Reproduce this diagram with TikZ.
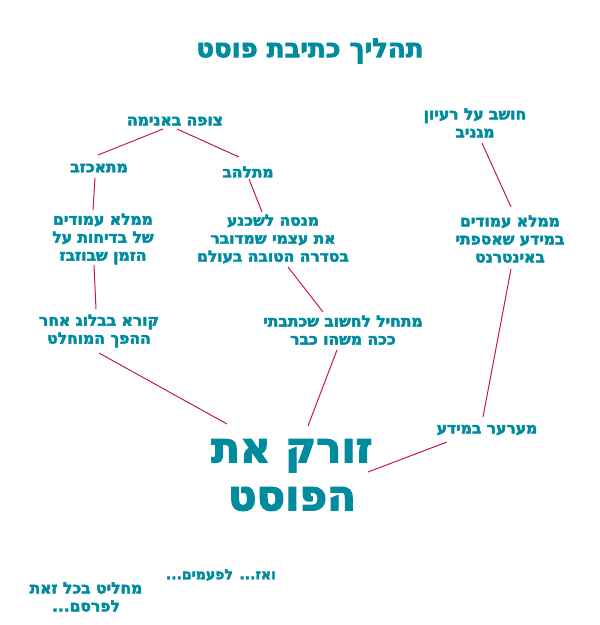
\documentclass[tikz,border=0pt]{standalone}
\usepackage{fontspec}
\setmainfont{DejaVu Sans}
\newfontfamily\hebfont[Script=Hebrew,BoldFeatures={FakeBold=3}]{DejaVu Sans}
\TeXXeTstate=1
\newcommand{\heb}[1]{\beginR #1\endR}
\definecolor{postteal}{HTML}{008B9E}
\definecolor{postred}{HTML}{C2185B}
\tikzset{
	stage/.style={text=postteal,inner sep=0pt,align=center,font=\hebfont\bfseries\fontsize{15.5}{18}\selectfont},
	headline/.style={stage,font=\hebfont\bfseries\fontsize{26}{30}\selectfont},
	bigstage/.style={stage,font=\hebfont\bfseries\fontsize{42}{48}\selectfont},
	link/.style={draw=postred,line width=1pt},
}
\begin{document}
\begin{tikzpicture}[x=1pt,y=-1pt]
\useasboundingbox (0,0) rectangle (600,625);
\node[headline] (title) at (310,51) {\heb{תהליך כתיבת פוסט}};
% left branch
\node[stage] (watch) at (175,121) {\heb{צופה באנימה}};
\node[stage] (depressed) at (99,168) {\heb{מתאכזב}};
\node[stage] (excited) at (248,172) {\heb{מתלהב}};
\node[stage] (fillpages) at (103,239) {\heb{ממלא עמודים}\\\heb{של בדיחות על}\\\heb{הזמן שבוזבז}};
\node[stage] (tries) at (273,239) {\heb{מנסה לשכנע}\\\heb{את עצמי שמדובר}\\\heb{בסדרה הטובה בעולם}};
\node[stage] (blog) at (99,331) {\heb{קורא בבלוג אחר}\\\heb{ההפך המוחלט}};
\node[stage] (thinks) at (343,330) {\heb{מתחיל לחשוב שכתבתי}\\\heb{ככה משהו כבר}};
% right branch
\node[stage] (idea) at (475,123) {\heb{חושב על רעיון}\\\heb{מגניב}};
\node[stage] (fillinfo) at (510,239) {\heb{ממלא עמודים}\\\heb{במידע שאספתי}\\\heb{באינטרנט}};
\node[stage] (shaken) at (487,430) {\heb{מערער במידע}};
% bottom
\node[bigstage] (throwpost) at (292,475) {\heb{זורק את}\\\heb{הפוסט}};
\node[stage,font=\hebfont\bfseries\fontsize{14}{18}\selectfont] (sometimes) at (221,575) {\heb{ואז... לפעמים...}};
\node[stage] (decide) at (86,597) {\heb{מחליט בכל זאת}\\\heb{לפרסם...}};

\draw[link] ([shift={(-12,8)}]watch.center) -- ([shift={(-1,-13)}]depressed.center);
\draw[link] ([shift={(2,8)}]watch.center) -- ([shift={(-9,-15)}]excited.center);
\draw[link] ([shift={(-4,10)}]depressed.center) -- ([shift={(-10,-29)}]fillpages.center);
\draw[link] ([shift={(1,7)}]excited.center) -- ([shift={(-11,-27)}]tries.center);
\draw[link] ([shift={(-9,26)}]fillpages.center) -- ([shift={(-3,-22)}]blog.center);
\draw[link] ([shift={(15,28)}]tries.center) -- ([shift={(-20,-18)}]thinks.center);
\draw[link] ([shift={(0,22)}]blog.center) -- ([shift={(-65,-51)}]throwpost.center);
\draw[link] ([shift={(-6,20)}]thinks.center) -- ([shift={(16,-49)}]throwpost.center);
\draw[link] ([shift={(7,20)}]idea.center) -- ([shift={(1,-32)}]fillinfo.center);
\draw[link] ([shift={(1,30)}]fillinfo.center) -- ([shift={(-4,-13)}]shaken.center);
\draw[link] ([shift={(-40,12)}]shaken.center) -- ([shift={(76,-3)}]throwpost.center);
\end{tikzpicture}
\end{document}
